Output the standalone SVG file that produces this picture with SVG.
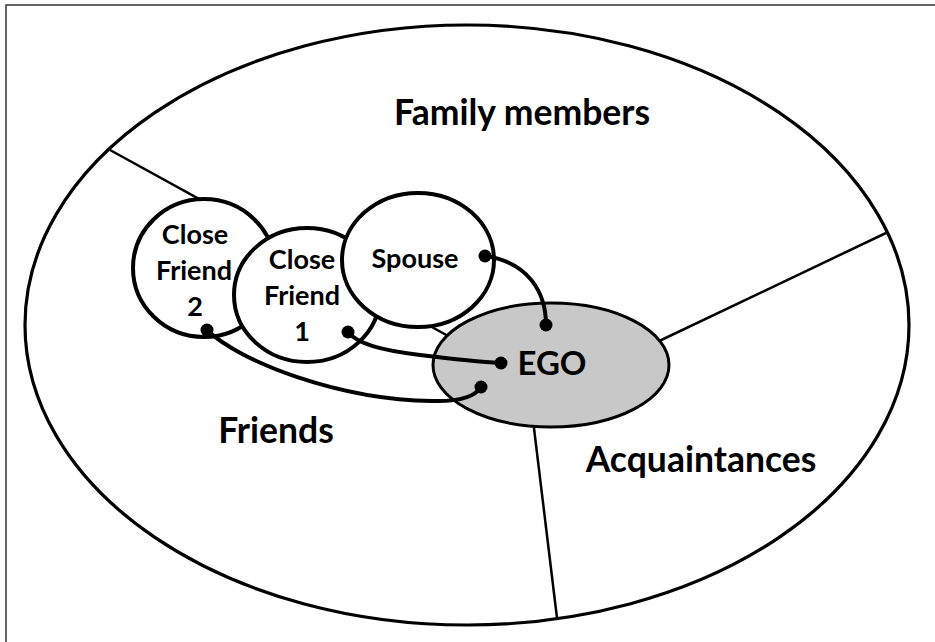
<svg xmlns="http://www.w3.org/2000/svg" width="935" height="642" viewBox="0 0 935 642">
<style>
.lbl{font-family:Lato,"Liberation Sans",sans-serif;font-weight:bold;fill:#000;text-anchor:middle}
.big{font-size:35.5px}
.ego{font-size:33px}
.small{font-size:27px}
.circ{fill:#fff;stroke:#000;stroke-width:4}
.div{stroke:#000;stroke-width:2.5;fill:none}
.conn{stroke:#000;stroke-width:4;fill:none;stroke-linecap:round}
.dot{fill:#000}
</style>
<rect x="0" y="0" width="935" height="642" fill="#fff"/>
<path d="M6,642 V5 H935" fill="none" stroke="#333" stroke-width="1.5"/>
<g id="outer">
<ellipse cx="467" cy="325" rx="442" ry="300" fill="#fff" stroke="#000" stroke-width="3.2"/>
</g>
<g id="dividers">
<line class="div" x1="110" y1="150" x2="450" y2="337"/>
<line class="div" x1="886" y1="233" x2="655" y2="343"/>
<line class="div" x1="533" y1="420" x2="557" y2="618"/>
</g>
<g id="ego">
<ellipse cx="551" cy="365" rx="118" ry="62" fill="#c8c8c8" stroke="#000" stroke-width="3"/>
<text class="lbl ego" x="552" y="375">EGO</text>
</g>
<g id="close-friend-2">
<ellipse class="circ" cx="204" cy="268" rx="71" ry="69"/>
<text class="lbl small" x="195" y="244">Close</text>
<text class="lbl small" x="194" y="280">Friend</text>
<text class="lbl small" x="195" y="316">2</text>
</g>
<g id="close-friend-1">
<ellipse class="circ" cx="307" cy="295" rx="73" ry="67"/>
<text class="lbl small" x="302" y="269">Close</text>
<text class="lbl small" x="302" y="305">Friend</text>
<text class="lbl small" x="302" y="341">1</text>
</g>
<g id="spouse">
<ellipse class="circ" cx="418" cy="260" rx="76" ry="67"/>
<text class="lbl small" x="415" y="268">Spouse</text>
</g>
<g id="labels">
<text class="lbl big" x="522" y="125">Family members</text>
<text class="lbl big" x="276" y="443">Friends</text>
<text class="lbl big" x="701" y="472">Acquaintances</text>
</g>
<g id="connectors">
<path class="conn" d="M485,256 C528,262 546,292 546,325"/>
<path class="conn" d="M348,332 C358,344 380,350 420,355 S480,362 501,363"/>
<path class="conn" d="M207,330 C240,362 340,400 432,401 C462,402 476,395 481,387"/>
<circle class="dot" cx="485" cy="256" r="6.5"/>
<circle class="dot" cx="546" cy="325" r="6.5"/>
<circle class="dot" cx="348" cy="332" r="6.5"/>
<circle class="dot" cx="501" cy="363" r="6.5"/>
<circle class="dot" cx="207" cy="330" r="6.5"/>
<circle class="dot" cx="481" cy="387" r="6.5"/>
</g>
</svg>
